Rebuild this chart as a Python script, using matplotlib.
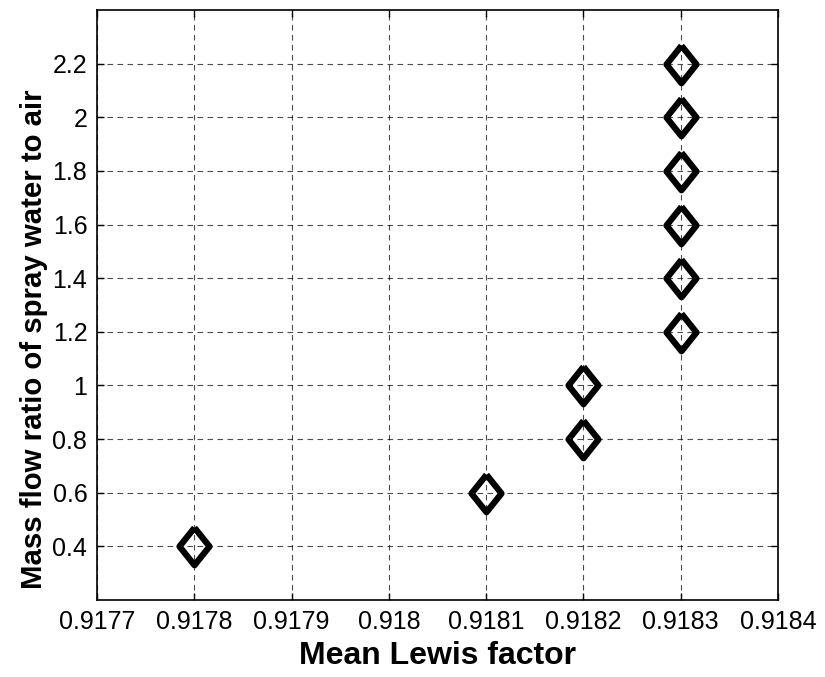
import matplotlib
matplotlib.use("Agg")
from matplotlib import pyplot as plt

plt.rcParams['font.family'] = ['Liberation Sans', 'DejaVu Sans']

lewis = [0.9178, 0.9181, 0.9182, 0.9182, 0.9183, 0.9183, 0.9183, 0.9183, 0.9183, 0.9183]
ratio = [0.4, 0.6, 0.8, 1.0, 1.2, 1.4, 1.6, 1.8, 2.0, 2.2]
xticks = [0.9177, 0.9178, 0.9179, 0.918, 0.9181, 0.9182, 0.9183, 0.9184]
xticklabels = ['0.9177', '0.9178', '0.9179', '0.918', '0.9181', '0.9182', '0.9183', '0.9184']
yticks = [0.4, 0.6, 0.8, 1.0, 1.2, 1.4, 1.6, 1.8, 2.0, 2.2]
yticklabels = ['0.4', '0.6', '0.8', '1', '1.2', '1.4', '1.6', '1.8', '2', '2.2']

fig = plt.figure(figsize=(8.25, 6.77), dpi=100)
ax = fig.add_axes([0.1176, 0.1137, 0.8254, 0.8715])

# tall diamond like the original
diamond = [(0, 1), (0.8, 0), (0, -1), (-0.8, 0), (0, 1)]
ax.plot(lewis, ratio, linestyle='none', marker=diamond, markersize=27,
        markerfacecolor='none', markeredgecolor='black', markeredgewidth=4.5, zorder=3)

ax.set_xlim(0.9177, 0.9184)
ax.set_ylim(0.2, 2.4)
ax.set_xticks(xticks)
ax.set_xticklabels(xticklabels)
ax.set_yticks(yticks)
ax.set_yticklabels(yticklabels)
ax.tick_params(direction='in', length=5, width=1, labelsize=18, pad=7, top=True, right=True)
ax.grid(True, color='black', linestyle=(0, (5, 4)), linewidth=0.8, alpha=0.7)
for s in ax.spines.values():
    s.set_linewidth(1.2)

ax.set_xlabel('Mean Lewis factor', fontsize=23, fontweight='bold', labelpad=5)
ax.set_ylabel('Mass flow ratio of spray water to air', fontsize=21.2, fontweight='bold')
ax.yaxis.set_label_coords(-0.072, 0.442)

fig.savefig('out.png', dpi=100)
